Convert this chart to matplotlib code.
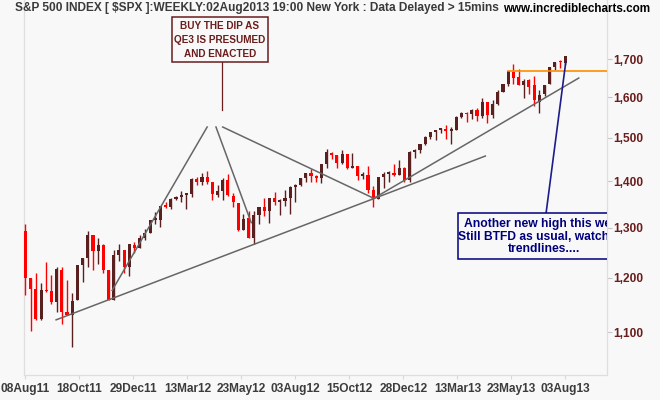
import numpy as np
import matplotlib.pyplot as plt
from matplotlib.patches import Rectangle
from matplotlib.ticker import FixedLocator, NullLocator, FuncFormatter

# Weekly S&P 500 bars, week of 01Aug2011 .. week of 29Jul2013
opens = [1292.6, 1198.5, 1178.9, 1123.2, 1177.0, 1174.0, 1153.5, 1214.0, 1136.9, 1131.2,
         1158.0, 1224.5, 1238.7, 1285.0, 1253.2, 1263.9, 1215.6, 1158.7, 1244.3, 1255.0,
         1219.7, 1265.0,
         1258.9, 1277.8, 1289.0, 1315.0, 1316.0, 1344.0, 1343.0, 1361.0, 1365.0, 1370.0,
         1371.0, 1404.0, 1397.0, 1408.0, 1397.5, 1370.0, 1378.0, 1403.0, 1368.0, 1351.9,
         1295.7, 1318.9, 1278.3, 1325.7, 1342.4, 1334.9, 1362.0, 1354.0, 1356.5, 1362.3,
         1385.9, 1391.0, 1405.9, 1418.0, 1411.0, 1406.5, 1437.9, 1465.0, 1460.0, 1440.9,
         1460.9, 1428.8, 1433.2, 1411.0, 1414.0, 1380.0, 1359.9, 1409.0, 1416.0, 1418.0,
         1413.5, 1430.0, 1402.4,
         1466.5, 1472.0, 1486.0, 1503.0, 1513.0, 1517.9, 1519.8, 1515.6, 1518.0, 1551.2,
         1560.7, 1556.9, 1569.2, 1553.3, 1588.8, 1555.3, 1582.3, 1614.4, 1633.7, 1666.2,
         1652.6, 1631.7, 1644.7, 1630.6, 1588.8, 1609.8, 1634.2, 1679.6, 1694.4, 1690.3]
highs = [1307.4, 1198.5, 1208.5, 1190.7, 1230.7, 1204.4, 1220.1, 1220.0, 1195.9, 1171.4,
         1224.6, 1239.0, 1292.7, 1285.0, 1277.6, 1265.4, 1215.6, 1255.0, 1267.0, 1255.0,
         1265.4, 1269.4,
         1284.6, 1296.8, 1315.5, 1333.5, 1345.3, 1354.3, 1363.0, 1367.8, 1378.0, 1373.0,
         1405.9, 1409.0, 1419.0, 1422.4, 1397.5, 1392.0, 1406.6, 1415.3, 1374.0, 1351.9,
         1328.5, 1334.9, 1334.8, 1343.3, 1363.5, 1362.5, 1374.8, 1361.0, 1380.4, 1389.2,
         1394.2, 1407.1, 1418.7, 1426.7, 1413.5, 1437.9, 1474.5, 1467.0, 1460.0, 1471.0,
         1460.9, 1464.0, 1433.8, 1420.0, 1433.4, 1388.8, 1409.2, 1419.7, 1423.7, 1439.0,
         1448.0, 1430.7, 1467.9,
         1472.8, 1486.0, 1503.3, 1514.4, 1518.3, 1524.7, 1530.9, 1525.8, 1552.5, 1563.3,
         1563.6, 1570.3, 1573.7, 1597.4, 1588.8, 1592.6, 1618.5, 1635.0, 1667.5, 1687.2,
         1674.2, 1646.5, 1648.7, 1654.2, 1620.0, 1632.0, 1680.2, 1693.1, 1698.8, 1709.7]
lows = [1168.1, 1101.5, 1121.0, 1121.1, 1172.6, 1150.9, 1136.2, 1114.2, 1131.1, 1074.8,
        1158.0, 1191.5, 1221.0, 1215.4, 1226.6, 1209.0, 1158.7, 1158.7, 1231.5, 1209.5,
        1202.4, 1248.6,
        1258.9, 1274.6, 1289.0, 1306.3, 1300.5, 1340.9, 1340.0, 1357.7, 1354.9, 1340.0,
        1365.0, 1391.4, 1391.6, 1392.9, 1357.4, 1365.4, 1358.8, 1367.7, 1343.1, 1291.9,
        1295.7, 1278.0, 1266.7, 1306.6, 1324.4, 1309.3, 1348.0, 1325.4, 1345.0, 1329.2,
        1354.6, 1390.0, 1397.3, 1398.0, 1397.0, 1396.6, 1429.0, 1449.9, 1430.5, 1439.0,
        1426.1, 1428.6, 1403.3, 1405.0, 1373.0, 1343.4, 1359.9, 1385.4, 1398.2, 1411.9,
        1413.5, 1398.1, 1398.1,
        1451.6, 1463.8, 1482.8, 1496.3, 1495.0, 1510.6, 1497.3, 1485.0, 1518.0, 1547.4,
        1538.6, 1546.2, 1539.5, 1548.3, 1536.0, 1548.2, 1581.3, 1614.4, 1629.4, 1635.5,
        1630.7, 1598.2, 1608.1, 1577.7, 1560.3, 1604.6, 1634.2, 1670.3, 1676.0, 1684.9]
closes = [1199.4, 1178.8, 1123.5, 1176.8, 1174.0, 1154.2, 1216.0, 1136.4, 1131.4, 1155.5,
          1224.6, 1238.3, 1285.1, 1253.2, 1263.9, 1215.7, 1158.7, 1244.3, 1255.2, 1219.7,
          1265.3, 1257.6,
          1277.8, 1289.1, 1315.4, 1316.3, 1344.9, 1342.6, 1361.2, 1365.7, 1370.0, 1370.9,
          1404.2, 1397.1, 1408.5, 1398.1, 1370.3, 1378.5, 1403.4, 1369.1, 1353.4, 1295.2,
          1317.8, 1278.0, 1325.7, 1342.8, 1335.0, 1362.2, 1354.7, 1356.8, 1362.7, 1386.0,
          1391.0, 1405.9, 1418.2, 1411.1, 1406.6, 1437.9, 1465.8, 1460.2, 1440.7, 1460.9,
          1428.6, 1433.2, 1411.9, 1414.2, 1379.9, 1359.9, 1409.2, 1416.2, 1418.1, 1413.6,
          1430.2, 1402.4, 1466.5,
          1472.1, 1486.0, 1503.0, 1513.2, 1517.9, 1519.8, 1515.6, 1518.2, 1551.2, 1560.7,
          1556.9, 1569.2, 1553.3, 1588.9, 1555.3, 1582.2, 1614.4, 1633.7, 1667.5, 1649.6,
          1630.7, 1643.4, 1626.7, 1592.4, 1606.3, 1631.9, 1680.2, 1692.1, 1691.7, 1709.7]

x_labels = ['08Aug11', '18Oct11', '29Dec11', '13Mar12', '23May12', '03Aug12',
            '15Oct12', '28Dec12', '13Mar13', '23May13', '03Aug13']
y_ticks = [1100, 1200, 1300, 1400, 1500, 1600, 1700]

# hand drawn lines: (bar index, price) pairs
trendlines = [
    [(5.9, 1122), (88.6, 1457)],
    [(66.8, 1360), (106.6, 1650)],
    [(16.7, 1176), (35.0, 1526)],
    [(36.7, 1526), (43.5, 1310)],
    [(38.0, 1526), (67.1, 1362)],
]
buy_pointer = [(37.9, 1693), (37.9, 1568)]
note_pointer = [(104.1, 1693), (100.3, 1330)]
resistance_start = 93          # week of 13May2013
resistance_level = 1667.5

BG = '#f8f8f8'
UP = '#5a2020'
DOWN = '#ff0000'
BROWN = '#6b1c1c'
NAVY = '#00007a'
W, H = 660, 400
plt.rcParams['font.family'] = ['Liberation Sans', 'DejaVu Sans']


def px(x, y):
    # pixel position (from top-left) -> figure fraction
    return x / W, 1 - y / H


fig = plt.figure(figsize=(W / 100, H / 100), dpi=100, facecolor=BG)
ax = fig.add_axes([24.3 / W, 25 / H, (607 - 24.3) / W, 375 / H])
ax.set_facecolor(BG)
ax.set_yscale('log')

o = np.array(opens)
h = np.array(highs)
l = np.array(lows)
c = np.array(closes)
idx = np.arange(len(o))
colors = np.where(c >= o, UP, DOWN)

ax.vlines(idx, l, h, colors=colors, lw=1.0, zorder=3)
body_lo = np.minimum(o, c)
body_hi = np.maximum(np.maximum(o, c), body_lo * 1.003)
ax.bar(idx, body_hi - body_lo, bottom=body_lo, width=0.6, color=colors,
       linewidth=0, zorder=4)

for (x0, y0), (x1, y1) in trendlines:
    ax.plot([x0, x1], [y0, y1], color='#666666', lw=1.1, zorder=5)

ax.plot([resistance_start, 115], [resistance_level] * 2, color='#ff8c00', lw=1.2, zorder=5)
ax.plot(*zip(*buy_pointer), color=BROWN, lw=0.9, zorder=5)
ax.plot(*zip(*note_pointer), color='#1c1c8c', lw=1.2, zorder=5)

# BUY THE DIP note
ax.add_patch(Rectangle(px(172, 62), 96 / W, 45 / H, transform=fig.transFigure,
                       fc=BG, ec=BROWN, lw=1.1, zorder=6))
ax.text(*px(220, 40), 'BUY THE DIP AS\nQE3 IS PRESUMED\nAND ENACTED', transform=fig.transFigure,
        ha='center', va='center', fontsize=7.2, fontweight='bold', color=BROWN,
        linespacing=1.5, zorder=7)

# new high note, cut off by the plot edge
ax.add_patch(Rectangle(px(458, 259), 180 / W, 46 / H, transform=fig.transFigure,
                       fc=BG, ec=NAVY, lw=1.1, zorder=6))
ax.text(*px(544, 236.5), 'Another new high this week\nStill BTFD as usual, watch the\ntrendlines....',
        transform=fig.transFigure, ha='center', va='center', fontsize=8.7,
        fontweight='bold', color=NAVY, linespacing=1.06, zorder=7, clip_on=True)

ax.set_xlim(-0.23, 112.04)
ax.set_ylim(1027.5, 1868.7)

ax.xaxis.set_major_locator(FixedLocator(np.linspace(0, 104, len(x_labels))))
ax.set_xticklabels(x_labels)
ax.yaxis.set_major_locator(FixedLocator(y_ticks))
ax.yaxis.set_minor_locator(NullLocator())
ax.yaxis.set_major_formatter(FuncFormatter(lambda v, p: f'{v:,.0f}'))
ax.yaxis.tick_right()

ax.tick_params(axis='y', which='major', length=3.6, width=0.8, color='#c8c8c8', pad=1,
               labelsize=8.6, labelcolor=BROWN)
ax.tick_params(axis='x', length=3, width=0.8, color='#d8d8d8', pad=3,
               labelsize=8.6, labelcolor='#3c3c3c')
for lab in ax.get_xticklabels() + ax.get_yticklabels():
    lab.set_fontweight('bold')

for side in ['left', 'right', 'bottom']:
    ax.spines[side].set_color('#dedede')
    ax.spines[side].set_linewidth(0.9)
ax.spines['top'].set_visible(False)

fig.text(*px(15, 8.5), 'S&P 500 INDEX [ $SPX ]:WEEKLY:02Aug2013 19:00 New York : Data Delayed > 15mins',
         ha='left', va='center', fontsize=8.6, fontweight='bold', color='#3a3a3a')
fig.text(*px(503, 8.5), 'www.incrediblecharts.com', ha='left', va='center',
         fontsize=8.4, fontweight='bold', color='black')

fig.savefig('out.png', dpi=100, facecolor=BG)
